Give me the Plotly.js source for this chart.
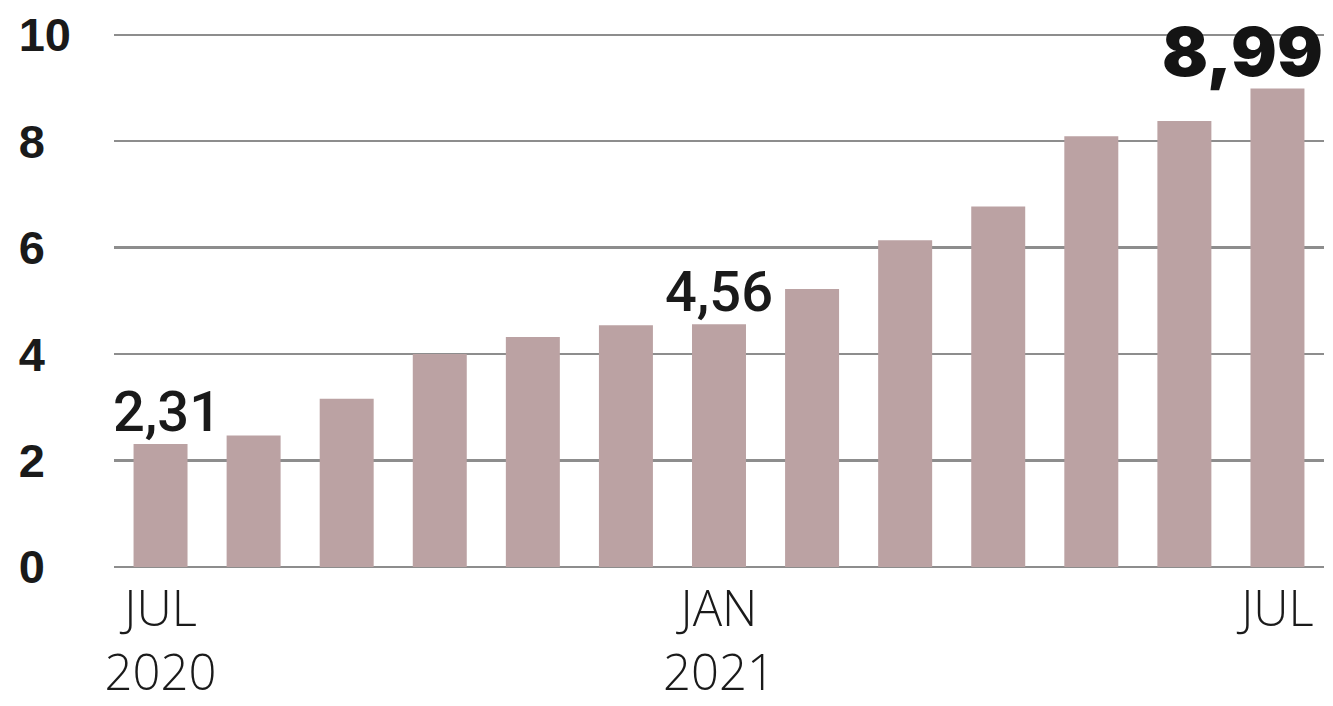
<!DOCTYPE html>
<html>
<head>
<meta charset="utf-8">
<script src="https://cdn.plot.ly/plotly-3.0.1.min.js"></script>
<style>html,body{margin:0;padding:0;background:#fff;}#chart{width:1333px;height:706px;}</style>
</head>
<body>
<div id="chart"></div>
<script>
// Data
const months = ['2020-07','2020-08','2020-09','2020-10','2020-11','2020-12','2021-01','2021-02','2021-03','2021-04','2021-05','2021-06','2021-07'];
const values = [2.31, 2.47, 3.16, 4.00, 4.32, 4.54, 4.56, 5.22, 6.14, 6.77, 8.09, 8.38, 8.99];
const tickMonths = ['2020-07','2021-01','2021-07'];
const tickLabels = ['JUL<br>2020','JAN<br>2021','JUL'];
const yTickVals = [0, 2, 4, 6, 8, 10];
const yTickText = ['0\u2007','2\u2007','4\u2007','6\u2007','8\u2007','10'];
const labelMonths = ['2020-07','2021-01'];
const labelTexts = ['2,31','4,56'];
const highlightMonth = '2021-07';
const highlightText = '8,99';

const labelShifts = [6, 0];
const annotations = labelMonths.map((m, i) => ({
  x: m, y: values[months.indexOf(m)], xref: 'x', yref: 'y',
  text: labelTexts[i], showarrow: false, xanchor: 'center', yanchor: 'bottom',
  xshift: labelShifts[i], yshift: -3,
  font: {family: 'Roboto, Liberation Sans, sans-serif', size: 56, weight: 500, color: '#1a1a1a'}
}));
annotations.push({
  x: highlightMonth, y: values[months.indexOf(highlightMonth)], xref: 'x', yref: 'y',
  text: highlightText, showarrow: false, xanchor: 'center', yanchor: 'bottom',
  xshift: -35, yshift: -6,
  font: {family: 'Inter, Liberation Sans, sans-serif', size: 68, weight: 900, color: '#141414'}
});

const trace = {
  type: 'bar', x: months, y: values,
  marker: {color: '#bba2a3', line: {width: 0}},
  hoverinfo: 'skip'
};

const layout = {
  width: 1333, height: 706,
  margin: {l: 114, r: 8.5, t: 24, b: 139, pad: 0},
  paper_bgcolor: '#ffffff', plot_bgcolor: '#ffffff',
  bargap: 0.42,
  showlegend: false,
  xaxis: {
    type: 'category', range: [-0.5, months.length - 0.5], autorange: false,
    tickvals: tickMonths, ticktext: tickLabels,
    showgrid: false, zeroline: false, showline: false, ticks: '',
    ticklabelstandoff: 9, automargin: false,
    tickfont: {family: 'Open Sans, Roboto, sans-serif', size: 49, weight: 300, color: '#1a1a1a'}
  },
  yaxis: {
    range: [0, 10.2], autorange: false, tickvals: yTickVals, ticktext: yTickText,
    showgrid: true, gridcolor: '#8d8d8d', gridwidth: 2.2,
    zeroline: true, zerolinecolor: '#8d8d8d', zerolinewidth: 2.6,
    showline: false, ticks: '', ticklabelstandoff: 42, automargin: false,
    tickfont: {family: 'Liberation Sans, Arial, sans-serif', size: 47, weight: 'bold', color: '#1a1a1a'}
  },
  annotations: annotations
};

Plotly.newPlot('chart', [trace], layout, {displayModeBar: false, staticPlot: true});
</script>
</body>
</html>
